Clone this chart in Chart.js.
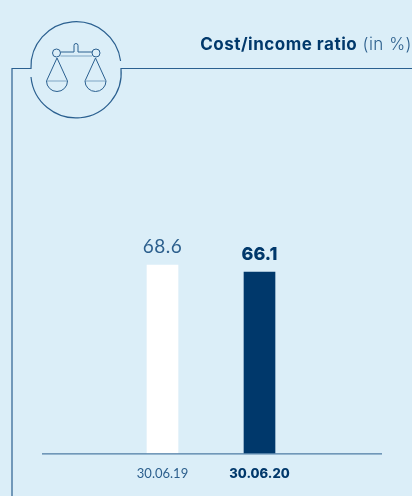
<!DOCTYPE html>
<html>
<head>
<meta charset="utf-8">
<style>
    html, body { margin: 0; padding: 0; background: #dbeef8; }
    #wrap { position: relative; width: 412px; height: 496px; overflow: hidden; font-family: Inter, sans-serif; }
    #frame { position: absolute; left: 0; top: 0; }
    #title { position: absolute; right: 0; top: 34px; font-size: 17px; color: #2c5f8d; white-space: nowrap; letter-spacing: 0.5px; }
    #title b { color: #00386b; font-weight: 700; }
    #title span { font-weight: 300; }
    canvas { position: absolute; left: 0; top: 0; }
</style>
</head>
<body>
<div id="wrap">
    <svg id="frame" width="412" height="496" fill="none" stroke="#2b6090">
        <path d="M12 496V68.5H31 A45 45 0 0 1 120.6 61" stroke-width="1.2"/>
        <path d="M31 77 A45 45 0 0 0 121 68.5H412" stroke-width="1.2"/>
        <circle cx="56.5" cy="53" r="4"/>
        <circle cx="96" cy="53" r="4"/>
        <path d="M60.5 52H74V45.5a2 2 0 0 1 4 0V52H92"/>
        <path d="M60.5 56H92" stroke="#7fa5c4"/>
        <path d="M57 58L46.5 81M57 58L67.5 81M95.5 58L85 81M95.5 58L106 81"/>
        <path d="M46.5 81H67.5M85 81H106" stroke="#7fa5c4"/>
        <path d="M46.5 81a10.5 10.5 0 0 0 21 0M85 81a10.5 10.5 0 0 0 21 0"/>
    </svg>
    <canvas id="ratioChart" width="412" height="496"></canvas>
    <div id="title"><b>Cost/income ratio</b> <span>(in %)</span></div>
</div>
<script src="https://cdn.jsdelivr.net/npm/chart.js@4"></script>
<script>
const categories = ['30.06.19', '30.06.20'];
const ratioValues = [68.6, 66.1];
const barColors = ['#ffffff', '#00386b'];
const labelColors = ['#2c5f8d', '#00386b'];
const regularFont = 'Lato, sans-serif';
const boldFont = 'Inter, sans-serif';

const baselineAndValues = {
    id: 'baselineAndValues',
    afterDatasetsDraw(chart) {
        const c = chart.ctx;
        const y0 = chart.scales.y.getPixelForValue(0);
        c.save();
        c.strokeStyle = '#2b6090';
        c.lineWidth = 1;
        c.beginPath();
        c.moveTo(42, y0 + 0.5);
        c.lineTo(382, y0 + 0.5);
        c.stroke();

        // value above each bar, bold for the latest one
        c.textAlign = 'center';
        c.textBaseline = 'alphabetic';
        chart.getDatasetMeta(0).data.forEach((bar, i) => {
            c.fillStyle = labelColors[i];
            c.font = i === 1 ? '800 18px ' + boldFont : '400 19px ' + regularFont;
            c.letterSpacing = i === 1 ? '0px' : '0.5px';
            c.fillText(ratioValues[i].toFixed(1), bar.x, bar.y - 12);
        });
        c.restore();
    }
};

const ctx = document.getElementById('ratioChart').getContext('2d');

new Chart(ctx, {
    type: 'bar',
    data: {
        labels: categories,
        datasets: [{
            data: ratioValues,
            backgroundColor: barColors,
            borderWidth: 0,
            barThickness: 31
        }]
    },
    options: {
        responsive: false,
        animation: false,
        layout: { padding: { left: 114, right: 104, top: 77, bottom: 1 } },
        plugins: {
            legend: { display: false },
            tooltip: { enabled: false }
        },
        scales: {
            x: {
                grid: { display: false, drawTicks: false },
                border: { display: false },
                ticks: {
                    padding: 13,
                    maxRotation: 0,
                    autoSkip: false,
                    color: labelColors,
                    font: (t) => t.index === 1
                        ? { family: boldFont, size: 13, weight: 800 }
                        : { family: regularFont, size: 13, weight: 400 }
                }
            },
            y: {
                display: false,
                min: 0,
                max: 137.2
            }
        }
    },
    plugins: [baselineAndValues]
});
</script>
</body>
</html>
